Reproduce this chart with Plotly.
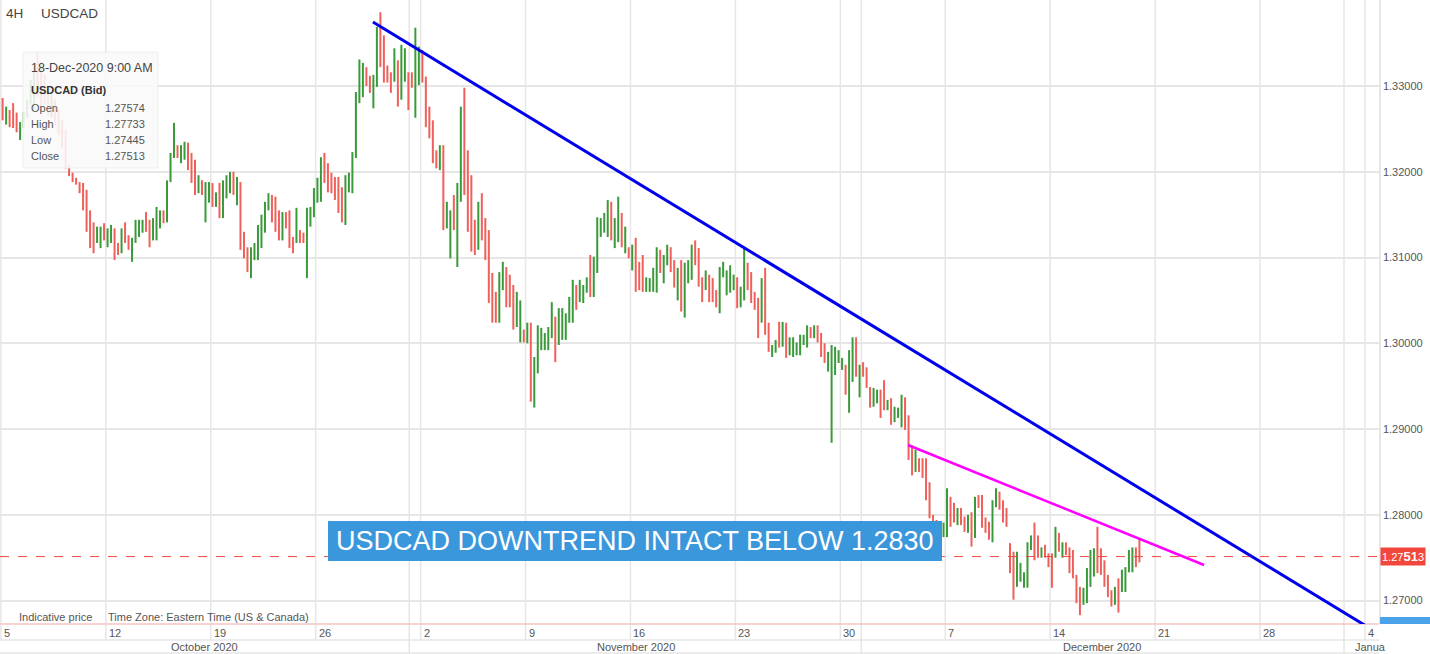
import datetime as dt
import plotly.graph_objects as go

# ---------------- data (USDCAD 4H bars) ----------------
high = [
    1.3286, 1.3276, 1.3272, 1.3280, 1.3269, 1.3258, 1.3270, 1.3284, 1.3307, 1.3324,
    1.3339, 1.3328, 1.3313, 1.3295, 1.3290, 1.3284, 1.3272, 1.3260, 1.3249, 1.3208,
    1.3199, 1.3193, 1.3188, 1.3187, 1.3179, 1.3155, 1.3141, 1.3136, 1.3136, 1.3140,
    1.3134, 1.3138, 1.3134, 1.3117, 1.3134, 1.3141, 1.3126, 1.3123, 1.3144, 1.3144,
    1.3144, 1.3153, 1.3144, 1.3146, 1.3159, 1.3155, 1.3155, 1.3190, 1.3222, 1.3257,
    1.3231, 1.3231, 1.3235, 1.3234, 1.3222, 1.3214, 1.3196, 1.3190, 1.3188, 1.3188,
    1.3187, 1.3176, 1.3187, 1.3190, 1.3196, 1.3200, 1.3200, 1.3194, 1.3188, 1.3130,
    1.3112, 1.3112, 1.3117, 1.3138, 1.3150, 1.3165, 1.3175, 1.3173, 1.3171, 1.3155,
    1.3153, 1.3153, 1.3155, 1.3124, 1.3158, 1.3132, 1.3129, 1.3158, 1.3159, 1.3181,
    1.3193, 1.3217, 1.3222, 1.3210, 1.3199, 1.3194, 1.3194, 1.3182, 1.3196, 1.3199,
    1.3223, 1.3293, 1.3331, 1.3327, 1.3322, 1.3312, 1.3313, 1.3369, 1.3386, 1.3359,
    1.3324, 1.3316, 1.3344, 1.3330, 1.3348, 1.3344, 1.3316, 1.3316, 1.3368, 1.3346,
    1.3342, 1.3311, 1.3276, 1.3260, 1.3225, 1.3231, 1.3231, 1.3165, 1.3155, 1.3173,
    1.3187, 1.3276, 1.3298, 1.3225, 1.3196, 1.3144, 1.3165, 1.3175, 1.3146, 1.3132,
    1.3082, 1.3060, 1.3083, 1.3095, 1.3089, 1.3080, 1.3068, 1.3060, 1.3050, 1.3016,
    1.3024, 1.3024, 1.2984, 1.3021, 1.3018, 1.3012, 1.3019, 1.3048, 1.3031, 1.3041,
    1.3041, 1.3035, 1.3054, 1.3074, 1.3068, 1.3074, 1.3068, 1.3077, 1.3103, 1.3101,
    1.3147, 1.3146, 1.3152, 1.3167, 1.3165, 1.3146, 1.3171, 1.3152, 1.3136, 1.3112,
    1.3115, 1.3123, 1.3095, 1.3103, 1.3077, 1.3076, 1.3088, 1.3112, 1.3109, 1.3103,
    1.3115, 1.3112, 1.3097, 1.3088, 1.3097, 1.3094, 1.3097, 1.3115, 1.3120, 1.3111,
    1.3077, 1.3085, 1.3080, 1.3076, 1.3062, 1.3089, 1.3095, 1.3085, 1.3091, 1.3080,
    1.3077, 1.3066, 1.3111, 1.3094, 1.3083, 1.3060, 1.3053, 1.3076, 1.3088, 1.3024,
    1.2998, 1.3004, 1.3025, 1.3025, 1.3024, 1.3007, 1.3007, 1.3001, 1.3010, 1.3010,
    1.3021, 1.3019, 1.3021, 1.3021, 1.3012, 1.3000, 1.2990, 1.2998, 1.2996, 1.2992,
    1.2983, 1.2975, 1.2992, 1.3007, 1.3007, 1.2975, 1.2978, 1.2972, 1.2949, 1.2948,
    1.2946, 1.2946, 1.2957, 1.2934, 1.2936, 1.2926, 1.2925, 1.2940, 1.2937, 1.2916,
    1.2881, 1.2876, 1.2866, 1.2866, 1.2866, 1.2838, 1.2800, 1.2794, 1.2792, 1.2791,
    1.2831, 1.2821, 1.2814, 1.2808, 1.2808, 1.2798, 1.2800, 1.2803, 1.2821, 1.2823,
    1.2823, 1.2797, 1.2792, 1.2817, 1.2831, 1.2827, 1.2817, 1.2808, 1.2767, 1.2757,
    1.2757, 1.2744, 1.2733, 1.2768, 1.2776, 1.2791, 1.2776, 1.2762, 1.2765, 1.2755,
    1.2755, 1.2786, 1.2779, 1.2768, 1.2768, 1.2762, 1.2759, 1.2730, 1.2716, 1.2715,
    1.2738, 1.2759, 1.2761, 1.2786, 1.2761, 1.2747, 1.2730, 1.2712, 1.2716, 1.2726,
    1.2736, 1.2739, 1.2759, 1.2762, 1.2762, 1.27733,
]
low = [
    1.3260, 1.3255, 1.3252, 1.3251, 1.3246, 1.3237, 1.3251, 1.3263, 1.3278, 1.3272,
    1.3287, 1.3272, 1.3278, 1.3266, 1.3263, 1.3255, 1.3243, 1.3228, 1.3204, 1.3195,
    1.3188, 1.3185, 1.3175, 1.3155, 1.3130, 1.3111, 1.3105, 1.3117, 1.3111, 1.3120,
    1.3112, 1.3117, 1.3097, 1.3103, 1.3105, 1.3117, 1.3109, 1.3095, 1.3117, 1.3124,
    1.3129, 1.3130, 1.3112, 1.3120, 1.3120, 1.3134, 1.3140, 1.3141, 1.3188, 1.3216,
    1.3216, 1.3210, 1.3214, 1.3202, 1.3187, 1.3173, 1.3175, 1.3173, 1.3141, 1.3164,
    1.3159, 1.3159, 1.3146, 1.3146, 1.3169, 1.3175, 1.3173, 1.3161, 1.3109, 1.3099,
    1.3083, 1.3076, 1.3097, 1.3097, 1.3111, 1.3129, 1.3155, 1.3141, 1.3130, 1.3120,
    1.3120, 1.3134, 1.3111, 1.3105, 1.3117, 1.3117, 1.3117, 1.3076, 1.3136, 1.3147,
    1.3164, 1.3165, 1.3187, 1.3176, 1.3175, 1.3167, 1.3152, 1.3141, 1.3138, 1.3176,
    1.3175, 1.3216, 1.3280, 1.3287, 1.3300, 1.3292, 1.3274, 1.3299, 1.3322, 1.3304,
    1.3304, 1.3292, 1.3305, 1.3276, 1.3284, 1.3305, 1.3272, 1.3298, 1.3263, 1.3301,
    1.3304, 1.3252, 1.3239, 1.3210, 1.3204, 1.3202, 1.3132, 1.3134, 1.3099, 1.3132,
    1.3089, 1.3165, 1.3173, 1.3130, 1.3107, 1.3103, 1.3109, 1.3120, 1.3097, 1.3047,
    1.3024, 1.3024, 1.3024, 1.3062, 1.3042, 1.3042, 1.3016, 1.3019, 1.3001, 1.3001,
    1.3000, 1.2932, 1.2925, 1.2965, 1.2992, 1.2992, 1.2992, 1.3006, 1.2978, 1.2998,
    1.3004, 1.3004, 1.3024, 1.3024, 1.3039, 1.3048, 1.3047, 1.3059, 1.3054, 1.3054,
    1.3082, 1.3124, 1.3129, 1.3124, 1.3120, 1.3111, 1.3118, 1.3112, 1.3105, 1.3099,
    1.3085, 1.3060, 1.3062, 1.3060, 1.3060, 1.3060, 1.3060, 1.3059, 1.3082, 1.3070,
    1.3091, 1.3083, 1.3065, 1.3050, 1.3037, 1.3030, 1.3070, 1.3074, 1.3091, 1.3066,
    1.3048, 1.3062, 1.3048, 1.3048, 1.3042, 1.3035, 1.3077, 1.3056, 1.3059, 1.3062,
    1.3041, 1.3042, 1.3050, 1.3062, 1.3047, 1.3039, 1.3006, 1.3024, 1.3010, 1.2990,
    1.2984, 1.2989, 1.2995, 1.2996, 1.2983, 1.2986, 1.2984, 1.2986, 1.2986, 1.2998,
    1.2995, 1.3006, 1.3006, 1.3001, 1.2984, 1.2977, 1.2967, 1.2884, 1.2963, 1.2977,
    1.2969, 1.2940, 1.2919, 1.2955, 1.2961, 1.2937, 1.2961, 1.2948, 1.2925, 1.2926,
    1.2930, 1.2913, 1.2922, 1.2922, 1.2905, 1.2908, 1.2913, 1.2902, 1.2899, 1.2864,
    1.2846, 1.2850, 1.2850, 1.2843, 1.2817, 1.2796, 1.2759, 1.2765, 1.2761, 1.2774,
    1.2774, 1.2786, 1.2791, 1.2788, 1.2788, 1.2780, 1.2779, 1.2763, 1.2773, 1.2808,
    1.2785, 1.2779, 1.2771, 1.2768, 1.2809, 1.2806, 1.2791, 1.2786, 1.2732, 1.2701,
    1.2716, 1.2722, 1.2715, 1.2715, 1.2759, 1.2747, 1.2750, 1.2750, 1.2750, 1.2739,
    1.2715, 1.2750, 1.2757, 1.2750, 1.2753, 1.2732, 1.2726, 1.2697, 1.2683, 1.2695,
    1.2697, 1.2716, 1.2728, 1.2732, 1.2730, 1.2716, 1.2704, 1.2693, 1.2695, 1.2686,
    1.2710, 1.2710, 1.2733, 1.2733, 1.2739, 1.27445,
]
# G = bar closed up (green), R = bar closed down (red)
direction = (
    "RGRRRGGGGG" "RRRRGRRRRR" "RRRRRRRGGR" "GGRRGRRGGG" "GRRGGGRGGG"
    "RGGRRRGRGG" "RGRGGGRGRR" "RGGGGGGRRR" "GRRRGRRGGG" "GGRRRRRRGG"
    "GGGGRRGGRR" "RRGRGGRRGG" "RRRRRGRGGR" "GGRRRRGRRR" "RRGGRRRGGR"
    "GRGGGGGGRG" "GGGGRGGGRG" "GGGGRGGRGR" "GRRRGGGGRG" "GRRGRGGGRR"
    "RGRRRGGGGG" "RGGRRRRGRR" "GGRGRGGGGG" "GRGRRRGGGG" "GRGGRGRRRG"
    "GRRGRGGGRR" "RGRRRRRRGG" "GRRGRRGRGR" "RRRGGRRRRR" "GGGGGRRGRR"
    "RGRGRRRRRG" "GGGRRRRRGR" "GGGGRR"
)
last_open = 1.27574   # 18-Dec-2020 9:00 AM bar (from the info box)
last_close = 1.27513

week_starts = ["2020-10-05", "2020-10-12", "2020-10-19", "2020-10-26", "2020-11-02",
               "2020-11-09", "2020-11-16", "2020-11-23", "2020-11-30", "2020-12-07",
               "2020-12-14", "2020-12-21", "2020-12-28", "2021-01-04"]
week_labels = ["5", "12", "19", "26", "2", "9", "16", "23", "30", "7", "14", "21", "28", "4"]
month_bounds = ["2020-10-30 11:00", "2020-12-01 00:00", "2021-01-01 00:00"]
month_labels = ["October 2020", "November 2020", "December 2020", "Janua"]
month_label_at = ["2020-10-16 16:20", "2020-11-16 06:15", "2020-12-16 11:20", "2021-01-01 10:20"]

y_ticks = [1.27, 1.28, 1.29, 1.30, 1.31, 1.32, 1.33]

blue_trend_x = ["2020-10-28 17:30", "2021-01-04 01:12"]
blue_trend_y = [1.33746, 1.26704]
magenta_trend_x = ["2020-12-03 05:15", "2020-12-23 07:55"]
magenta_trend_y = [1.28814, 1.27415]

info_rows = [("Open", "1.27574"), ("High", "1.27733"), ("Low", "1.27445"), ("Close", "1.27513")]

# ---------------- build bar times (6 x 4H bars per trading day) ----------------
slot_hours = [2, 6, 10, 14, 18, 22]
times = []
day = dt.datetime(2020, 10, 5)
while len(times) < len(high):
    if day.weekday() < 5:
        for h in slot_hours:
            times.append(day + dt.timedelta(hours=h))
    day += dt.timedelta(days=1)
times = times[:len(high)]

# open/close ticks are not visible in the picture; only the bar direction is
opens = [lo if d == "G" else hi for hi, lo, d in zip(high, low, direction)]
closes = [hi if d == "G" else lo for hi, lo, d in zip(high, low, direction)]
opens[-1] = last_open
closes[-1] = last_close

GREEN = "#3a9a3a"
RED = "#f0605a"
GRID = "#e6e6e6"
TXT = "#555555"
FONT = "Liberation Sans, Arial, sans-serif"

PW, PH = 1379.0, 624.0  # plot area in px


def px_x(px):
    return px / PW


def px_y(py):
    return (PH - py) / PH


fig = go.Figure()
fig.add_trace(go.Ohlc(
    x=times, open=opens, high=high, low=low, close=closes,
    increasing=dict(line=dict(color=GREEN, width=2)),
    decreasing=dict(line=dict(color=RED, width=2)),
    tickwidth=0, hoverinfo="skip", showlegend=False,
))

shapes = []
# vertical grid lines at Mondays (through the day-label row)
for w in week_starts:
    shapes.append(dict(type="line", xref="x", yref="paper", x0=w, x1=w,
                       y0=px_y(640), y1=1, line=dict(color=GRID, width=1.5), layer="below"))
# month boundaries (through both label rows)
for m in month_bounds:
    shapes.append(dict(type="line", xref="x", yref="paper", x0=m, x1=m,
                       y0=px_y(654), y1=1, line=dict(color=GRID, width=1.5), layer="below"))
# label rows separators
shapes.append(dict(type="line", xref="paper", yref="paper", x0=0, x1=1, y0=px_y(640), y1=px_y(640),
                   line=dict(color=GRID, width=1.5)))
shapes.append(dict(type="line", xref="paper", yref="paper", x0=0, x1=1, y0=px_y(653), y1=px_y(653),
                   line=dict(color=GRID, width=1.5)))
shapes.append(dict(type="line", xref="paper", yref="paper", x0=0, x1=1, y0=0, y1=0,
                   line=dict(color="#f6c4c4", width=1.5)))
# current price line
shapes.append(dict(type="line", xref="paper", yref="y", x0=0, x1=1, y0=last_close, y1=last_close,
                   line=dict(color="#f04a40", width=1, dash="dash"), layer="above"))
# trend lines
shapes.append(dict(type="line", xref="x", yref="y", x0=blue_trend_x[0], x1=blue_trend_x[1],
                   y0=blue_trend_y[0], y1=blue_trend_y[1], line=dict(color="#0000ee", width=3), layer="above"))
shapes.append(dict(type="line", xref="x", yref="y", x0=magenta_trend_x[0], x1=magenta_trend_x[1],
                   y0=magenta_trend_y[0], y1=magenta_trend_y[1], line=dict(color="#ff00ff", width=2.5), layer="above"))
# headline box
shapes.append(dict(type="rect", xref="paper", yref="paper", x0=px_x(328), x1=px_x(942),
                   y0=px_y(561), y1=px_y(521), fillcolor="#3a97dc", line=dict(width=0), layer="above"))
# info box
shapes.append(dict(type="rect", xref="paper", yref="paper", x0=px_x(23), x1=px_x(158),
                   y0=px_y(168), y1=px_y(52), fillcolor="rgba(249,249,249,0.88)",
                   line=dict(color="rgba(235,235,235,0.8)", width=1), layer="above"))
# blue price tag at the bottom right (mostly hidden)
shapes.append(dict(type="rect", xref="paper", yref="paper", x0=px_x(1380), x1=px_x(1430),
                   y0=px_y(624), y1=px_y(617), fillcolor="#4aa3ea", line=dict(width=0), layer="above"))

ann = []
for w, lab in zip(week_starts, week_labels):
    ann.append(dict(x=w, xref="x", y=px_y(633), yref="paper", text=lab, showarrow=False,
                    xanchor="left", yanchor="middle", xshift=1,
                    font=dict(size=11, color=TXT, family=FONT)))
for m, lab in zip(month_label_at, month_labels):
    ann.append(dict(x=m, xref="x", y=px_y(647), yref="paper", text=lab, showarrow=False,
                    xanchor="left" if lab == "Janua" else "center", yanchor="middle",
                    font=dict(size=11, color=TXT, family=FONT)))
# header
ann.append(dict(x=px_x(4), y=px_y(13), xref="paper", yref="paper", text="4H", showarrow=False,
                xanchor="left", yanchor="middle", font=dict(size=13.5, color="#444", family=FONT)))
ann.append(dict(x=px_x(39), y=px_y(13), xref="paper", yref="paper", text="USDCAD", showarrow=False,
                xanchor="left", yanchor="middle", font=dict(size=13.5, color="#444", family=FONT)))
# info box text
ann.append(dict(x=px_x(29), y=px_y(68), xref="paper", yref="paper", text="18-Dec-2020 9:00 AM",
                showarrow=False, xanchor="left", yanchor="middle",
                font=dict(size=12.5, color="#444", family=FONT)))
ann.append(dict(x=px_x(29), y=px_y(90), xref="paper", yref="paper", text="<b>USDCAD (Bid)</b>",
                showarrow=False, xanchor="left", yanchor="middle",
                font=dict(size=11, color="#333", family=FONT)))
for k, (name, val) in enumerate(info_rows):
    yy = px_y(108 + 16 * k)
    ann.append(dict(x=px_x(29), y=yy, xref="paper", yref="paper", text=name, showarrow=False,
                    xanchor="left", yanchor="middle", font=dict(size=11, color=TXT, family=FONT)))
    ann.append(dict(x=px_x(147), y=yy, xref="paper", yref="paper", text=val, showarrow=False,
                    xanchor="right", yanchor="middle", font=dict(size=11, color=TXT, family=FONT)))
# footer texts
ann.append(dict(x=px_x(17), y=px_y(617), xref="paper", yref="paper", text="Indicative price",
                showarrow=False, xanchor="left", yanchor="middle", font=dict(size=11, color=TXT, family=FONT)))
ann.append(dict(x=px_x(106), y=px_y(617), xref="paper", yref="paper",
                text="Time Zone: Eastern Time (US &amp; Canada)",
                showarrow=False, xanchor="left", yanchor="middle", font=dict(size=11, color=TXT, family=FONT)))
# headline
ann.append(dict(x=px_x(635), y=px_y(541), xref="paper", yref="paper",
                text="USDCAD DOWNTREND INTACT BELOW 1.2830", showarrow=False,
                xanchor="center", yanchor="middle", font=dict(size=27, color="white", family=FONT)))
# current price tag
ann.append(dict(x=1, xref="paper", y=last_close, yref="y",
                text="1.27<b><span style='font-size:13px'>51</span></b>3", showarrow=False,
                xanchor="left", yanchor="middle", xshift=1, bgcolor="#f2473c", borderpad=1,
                font=dict(size=11, color="white", family=FONT)))

fig.update_layout(
    template="none",
    width=1430, height=654,
    margin=dict(l=0, r=51, t=0, b=30, pad=0),
    paper_bgcolor="white", plot_bgcolor="white",
    showlegend=False, dragmode=False,
    font=dict(family=FONT, size=11, color=TXT),
    xaxis=dict(type="date", range=["2020-10-02 23:00", "2021-01-04 16:00"],
               rangebreaks=[dict(bounds=["sat", "mon"])],
               showgrid=False, showticklabels=False, zeroline=False, showline=False,
               ticks="", rangeslider=dict(visible=False), fixedrange=True, automargin=False),
    yaxis=dict(side="right", range=[1.26727, 1.34003], tickvals=y_ticks, tickformat=".5f",
               showgrid=True, gridcolor=GRID, gridwidth=1.5, zeroline=False,
               showline=True, linecolor=GRID, linewidth=1.5, ticks="",
               tickfont=dict(size=11, color=TXT, family=FONT), fixedrange=True, automargin=False),
    shapes=shapes, annotations=ann,
)

fig.write_html("out.html", config={"displayModeBar": False},
               post_script="document.body.style.margin='0';document.body.style.overflow='hidden';")
